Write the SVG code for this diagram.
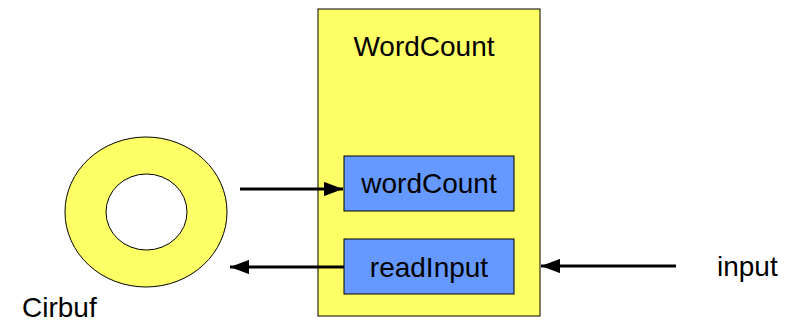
<svg xmlns="http://www.w3.org/2000/svg" width="802" height="324" viewBox="0 0 802 324">
<style>
.y{fill:#FFFF66;stroke:#000;stroke-width:1}
.b{fill:#6699FF;stroke:#000;stroke-width:1}
text{font-family:"Liberation Sans",Arial,sans-serif;font-size:28px;fill:#000}
.c{text-anchor:middle}
.ln{stroke:#000;stroke-width:3;fill:none}
</style>
<defs>
<marker id="ah" markerWidth="6.4" markerHeight="4.8" refX="6.4" refY="2.4" orient="auto" markerUnits="strokeWidth">
<path d="M0,0 L6.4,2.4 L0,4.8 Z" fill="#000"/>
</marker>
</defs>
<g id="WordCount">
<rect class="y" x="318" y="9" width="222" height="307"/>
<text class="c" x="424" y="56">WordCount</text>
</g>
<g id="Cirbuf">
<path class="y" fill-rule="evenodd" d="M65,212 a81,75 0 1,0 162,0 a81,75 0 1,0 -162,0 Z M106,212 a40.5,38 0 1,0 81,0 a40.5,38 0 1,0 -81,0 Z"/>
<text x="22" y="317">Cirbuf</text>
</g>
<g id="wordCount">
<rect class="b" x="344" y="156" width="170" height="55"/>
<text class="c" x="429" y="193">wordCount</text>
</g>
<g id="readInput">
<rect class="b" x="344" y="239" width="170" height="55"/>
<text class="c" x="429" y="277">readInput</text>
</g>
<g id="input">
<text x="717" y="276">input</text>
</g>
<g id="connectors">
<line class="ln" x1="240" y1="189" x2="343" y2="189" marker-end="url(#ah)"/>
<line class="ln" x1="344" y1="267" x2="230" y2="267" marker-end="url(#ah)"/>
<line class="ln" x1="676" y1="266" x2="541" y2="266" marker-end="url(#ah)"/>
</g>
</svg>
